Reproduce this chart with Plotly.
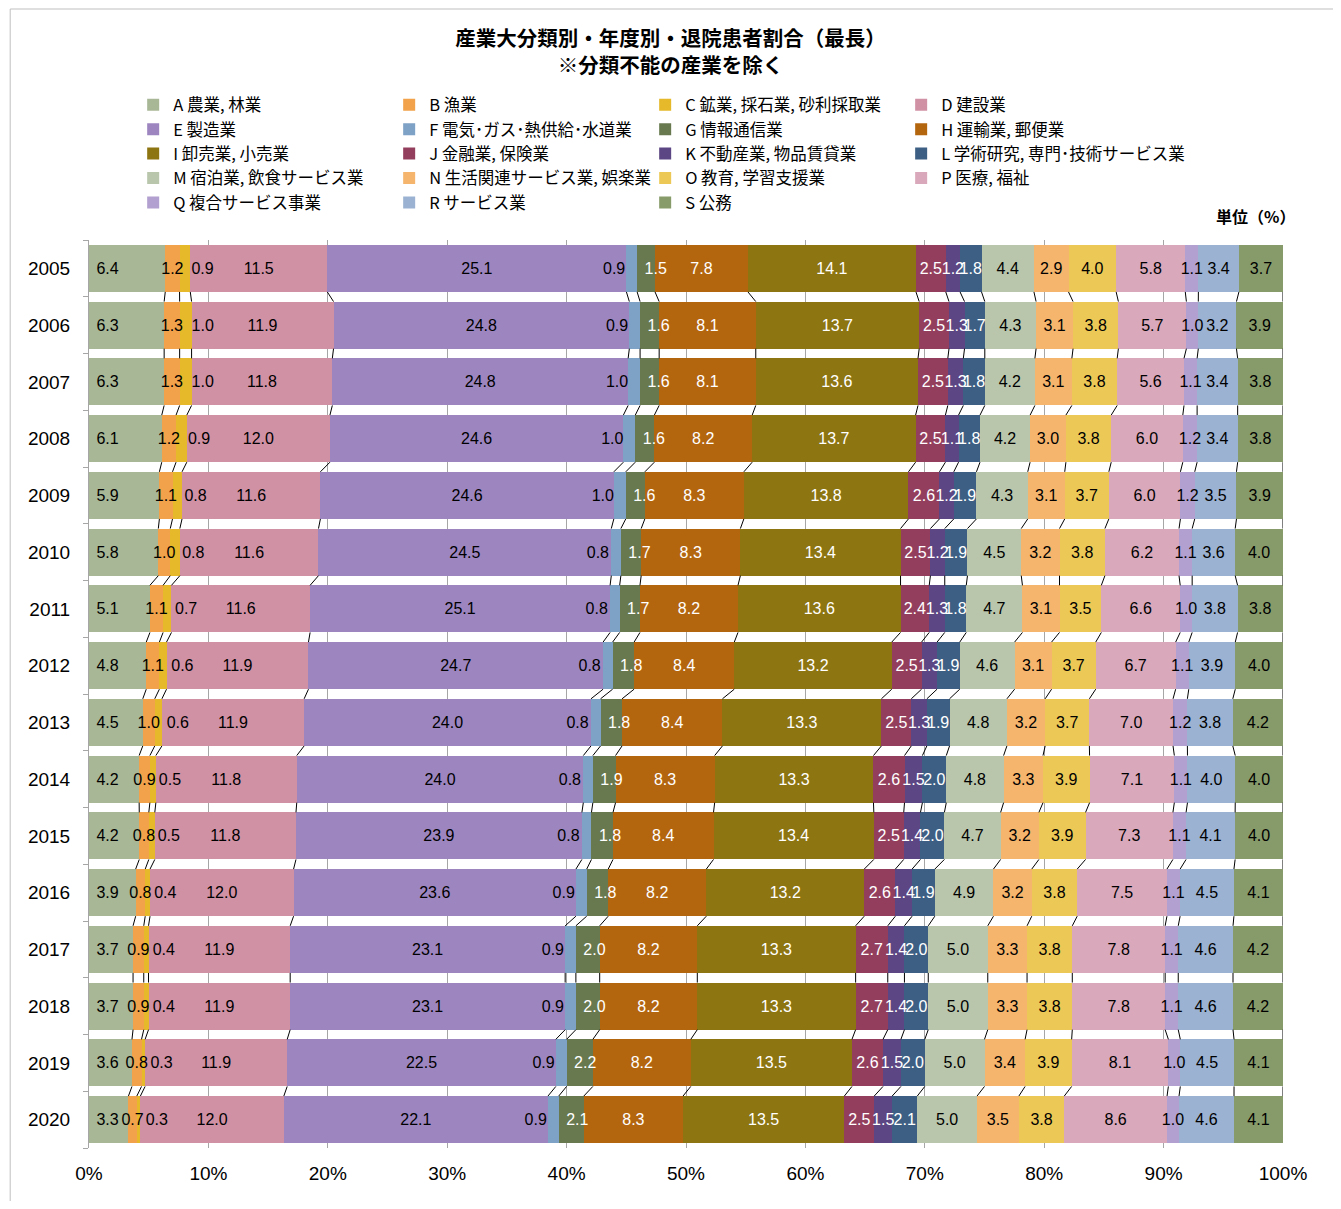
import plotly.graph_objects as go

years = ["2005", "2006", "2007", "2008", "2009", "2010", "2011", "2012",
         "2013", "2014", "2015", "2016", "2017", "2018", "2019", "2020"]

industries = [
    "A 農業, 林業", "B 漁業", "C 鉱業, 採石業, 砂利採取業", "D 建設業",
    "E 製造業", "F 電気･ガス･熱供給･水道業", "G 情報通信業", "H 運輸業, 郵便業",
    "I 卸売業, 小売業", "J 金融業, 保険業", "K 不動産業, 物品賃貸業", "L 学術研究, 専門･技術サービス業",
    "M 宿泊業, 飲食サービス業", "N 生活関連サービス業, 娯楽業", "O 教育, 学習支援業", "P 医療, 福祉",
    "Q 複合サービス事業", "R サービス業", "S 公務",
]

# Values per industry (A..S), one value per year 2005..2020
A = [6.4, 6.3, 6.3, 6.1, 5.9, 5.8, 5.1, 4.8, 4.5, 4.2, 4.2, 3.9, 3.7, 3.7, 3.6, 3.3]
B = [1.2, 1.3, 1.3, 1.2, 1.1, 1.0, 1.1, 1.1, 1.0, 0.9, 0.8, 0.8, 0.9, 0.9, 0.8, 0.7]
C = [0.9, 1.0, 1.0, 0.9, 0.8, 0.8, 0.7, 0.6, 0.6, 0.5, 0.5, 0.4, 0.4, 0.4, 0.3, 0.3]
D = [11.5, 11.9, 11.8, 12.0, 11.6, 11.6, 11.6, 11.9, 11.9, 11.8, 11.8, 12.0, 11.9, 11.9, 11.9, 12.0]
E = [25.1, 24.8, 24.8, 24.6, 24.6, 24.5, 25.1, 24.7, 24.0, 24.0, 23.9, 23.6, 23.1, 23.1, 22.5, 22.1]
F = [0.9, 0.9, 1.0, 1.0, 1.0, 0.8, 0.8, 0.8, 0.8, 0.8, 0.8, 0.9, 0.9, 0.9, 0.9, 0.9]
G = [1.5, 1.6, 1.6, 1.6, 1.6, 1.7, 1.7, 1.8, 1.8, 1.9, 1.8, 1.8, 2.0, 2.0, 2.2, 2.1]
H = [7.8, 8.1, 8.1, 8.2, 8.3, 8.3, 8.2, 8.4, 8.4, 8.3, 8.4, 8.2, 8.2, 8.2, 8.2, 8.3]
I = [14.1, 13.7, 13.6, 13.7, 13.8, 13.4, 13.6, 13.2, 13.3, 13.3, 13.4, 13.2, 13.3, 13.3, 13.5, 13.5]
J = [2.5, 2.5, 2.5, 2.5, 2.6, 2.5, 2.4, 2.5, 2.5, 2.6, 2.5, 2.6, 2.7, 2.7, 2.6, 2.5]
K = [1.2, 1.3, 1.3, 1.1, 1.2, 1.2, 1.3, 1.3, 1.3, 1.5, 1.4, 1.4, 1.4, 1.4, 1.5, 1.5]
L = [1.8, 1.7, 1.8, 1.8, 1.9, 1.9, 1.8, 1.9, 1.9, 2.0, 2.0, 1.9, 2.0, 2.0, 2.0, 2.1]
M = [4.4, 4.3, 4.2, 4.2, 4.3, 4.5, 4.7, 4.6, 4.8, 4.8, 4.7, 4.9, 5.0, 5.0, 5.0, 5.0]
N = [2.9, 3.1, 3.1, 3.0, 3.1, 3.2, 3.1, 3.1, 3.2, 3.3, 3.2, 3.2, 3.3, 3.3, 3.4, 3.5]
O = [4.0, 3.8, 3.8, 3.8, 3.7, 3.8, 3.5, 3.7, 3.7, 3.9, 3.9, 3.8, 3.8, 3.8, 3.9, 3.8]
P = [5.8, 5.7, 5.6, 6.0, 6.0, 6.2, 6.6, 6.7, 7.0, 7.1, 7.3, 7.5, 7.8, 7.8, 8.1, 8.6]
Q = [1.1, 1.0, 1.1, 1.2, 1.2, 1.1, 1.0, 1.1, 1.2, 1.1, 1.1, 1.1, 1.1, 1.1, 1.0, 1.0]
R = [3.4, 3.2, 3.4, 3.4, 3.5, 3.6, 3.8, 3.9, 3.8, 4.0, 4.1, 4.5, 4.6, 4.6, 4.5, 4.6]
S = [3.7, 3.9, 3.8, 3.8, 3.9, 4.0, 3.8, 4.0, 4.2, 4.0, 4.0, 4.1, 4.2, 4.2, 4.1, 4.1]

series = [A, B, C, D, E, F, G, H, I, J, K, L, M, N, O, P, Q, R, S]

colors = [
    "#A8B796", "#F2A24A", "#E5B92A", "#D191A5", "#9D86C0", "#7EA1C6", "#68794F",
    "#B4660F", "#8D7511", "#943E5D", "#5C4683", "#3D5F84", "#B9C6AC", "#F5B56D",
    "#ECC956", "#D9A8BA", "#B2A0D0", "#9BB2D2", "#879B6A",
]
text_colors = ["black"] * 6 + ["white"] * 6 + ["black"] * 7
NB = "\u00a0"
anchors = ["start", "middle", "start", "middle", "middle", "end", "start"] + ["middle"] * 12
templates = [NB + "%{text:.1f}", "%{text:.1f}", NB * 2 + "%{text:.1f}", "%{text:.1f}",
             "%{text:.1f}", "%{text:.1f}" + NB * 2, NB + "%{text:.1f}"] + ["%{text:.1f}"] * 12

font_family = "Liberation Sans, Arial, Noto Sans CJK JP, sans-serif"
jp_font = "Noto Sans CJK JP, sans-serif"
BAR_W = 0.83
XMAX = 100.0001
ypos = list(range(len(years)))
legend_ids = ["legend", "legend2", "legend3", "legend4"]

fig = go.Figure()
# coloured segments (with legend)
for i, (name, vals, col) in enumerate(zip(industries, series, colors)):
    fig.add_trace(go.Bar(
        y=ypos, x=vals, name=name, orientation="h", width=BAR_W,
        marker=dict(color=col, line=dict(width=0)),
        legend=legend_ids[i % 4], legendgroup=name,
        hoverinfo="skip", xaxis="x", yaxis="y",
    ))

# Excel-style series lines connecting segment boundaries of adjacent bars
totals = [sum(s[yi] for s in series) for yi in range(len(years))]
cums = []
for yi in range(len(years)):
    c, row = 0.0, []
    for s in series:
        c += s[yi]
        row.append(c / totals[yi] * 100)
    cums.append(row)
lx, ly = [], []
for yi in range(len(years) - 1):
    for k in range(len(series)):
        lx += [cums[yi][k], cums[yi + 1][k], None]
        ly += [yi + BAR_W / 2, yi + 1 - BAR_W / 2, None]
fig.add_trace(go.Scatter(x=lx, y=ly, mode="lines", line=dict(color="black", width=1),
                         showlegend=False, hoverinfo="skip", cliponaxis=False,
                         xaxis="x", yaxis="y"))

# data labels on an overlaid axis so they sit above every segment
for name, vals, tcol, anc, tpl in zip(industries, series, text_colors, anchors, templates):
    fig.add_trace(go.Bar(
        y=ypos, x=vals, name=name, orientation="h", width=BAR_W,
        marker=dict(color="rgba(0,0,0,0)", line=dict(width=0)),
        text=vals, texttemplate=tpl, textposition="inside",
        insidetextanchor=anc, textangle=0, constraintext="none",
        textfont=dict(color=tcol, size=16, family=font_family),
        cliponaxis=False, hoverinfo="skip", showlegend=False,
        xaxis="x2", yaxis="y",
    ))

legend_common = dict(
    orientation="v", y=1.168, yanchor="top", traceorder="normal",
    font=dict(size=16.5, family=jp_font), itemwidth=30, tracegroupgap=6,
    bgcolor="rgba(0,0,0,0)",
)
legend_x = [0.037, 0.2514, 0.4658, 0.6802]

fig.update_layout(
    barmode="stack", barnorm="percent",
    width=1325, height=1193,
    paper_bgcolor="white", plot_bgcolor="white",
    font=dict(family=font_family, color="black"),
    margin=dict(l=81, r=50, t=232, b=53),
    title=dict(
        text="<b>産業大分類別・年度別・退院患者割合（最長）<br>※分類不能の産業を除く</b>",
        x=0.5, xanchor="center", y=0.968, yanchor="top",
        font=dict(size=20.5, family=jp_font),
    ),
    legend=dict(x=legend_x[0], **legend_common),
    legend2=dict(x=legend_x[1], **legend_common),
    legend3=dict(x=legend_x[2], **legend_common),
    legend4=dict(x=legend_x[3], **legend_common),
    xaxis=dict(
        range=[0, XMAX], dtick=10, ticksuffix="%", showgrid=True,
        gridcolor="#A6A6A6", gridwidth=1, zeroline=False,
        showline=False, ticks="", tickfont=dict(size=19), ticklabelstandoff=12,
    ),
    xaxis2=dict(range=[0, XMAX], overlaying="x", visible=False, showgrid=False),
    yaxis=dict(
        tickmode="array", tickvals=ypos, ticktext=years,
        range=[len(years) - 0.5, -0.5], showgrid=False, zeroline=False,
        showline=True, linecolor="#A6A6A6", linewidth=1,
        ticks="", tickfont=dict(size=19), ticklabelstandoff=14,
        minor=dict(tickmode="array", tickvals=[i - 0.5 for i in range(len(years) + 1)],
                   ticks="outside", ticklen=5, tickcolor="#A6A6A6", showgrid=False),
    ),
)

fig.add_annotation(
    text="<b>単位（%）</b>", xref="paper", yref="paper",
    x=1.012, y=1.011, xanchor="right", yanchor="bottom", showarrow=False,
    font=dict(size=16, family=jp_font),
)

# outer chart border
fig.add_shape(type="rect", xref="paper", yref="paper",
              x0=-0.066, x1=1.0427, y0=-0.0639, y1=1.2544,
              line=dict(color="#BFBFBF", width=1))

fig.write_html("out.html")
